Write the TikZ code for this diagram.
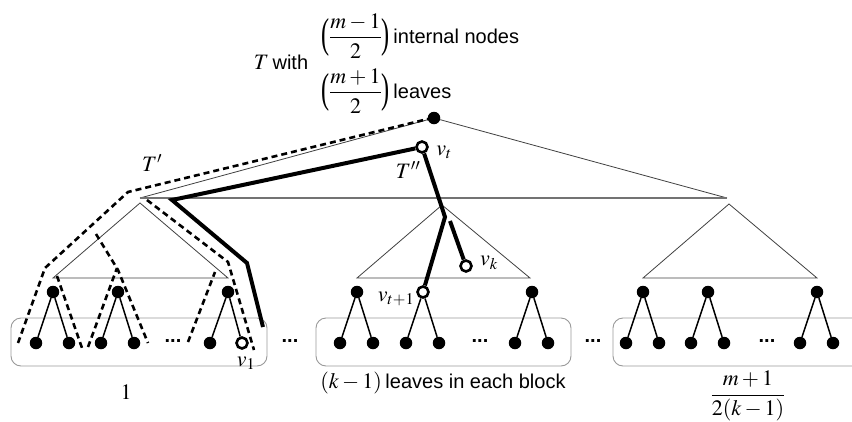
\documentclass[tikz,border=0pt]{standalone}
\usepackage{amsmath}
\usepackage{graphicx}
\usepackage{mathptmx}
\usepackage[no-math]{fontspec}
\setmainfont{Liberation Serif}
\setsansfont{Liberation Sans}
\newcommand{\sftxt}[1]{{\fontsize{20}{24}\selectfont\sffamily #1}}
\newcommand{\lparen}{\mathopen{\raisebox{-4.6pt}{\scalebox{1.1}[1.9]{(}}}}
\newcommand{\rparen}{\mathclose{\raisebox{-4.6pt}{\scalebox{1.1}[1.9]{)}}}}
\tikzset{
  fdot/.style={circle, fill=black, inner sep=0pt, minimum size=12.5pt},
  hdot/.style={circle, draw=black, line width=2.6pt, fill=white, inner sep=0pt, minimum size=11pt},
  leafedge/.style={line width=1.5pt},
  thin/.style={draw=black!75, line width=0.8pt},
  baseline/.style={draw=black!55, line width=1.2pt},
  blockbox/.style={draw=black!40, line width=0.9pt, rounded corners=10pt},
  tdash/.style={line width=2.6pt, dash pattern=on 6pt off 4pt},
  thickpath/.style={line width=4pt},
  lbl/.style={inner sep=0pt, font=\fontsize{22}{26}\selectfont},
  sdots/.style={inner sep=0pt, font=\fontsize{20}{24}\selectfont\sffamily\bfseries},
}
\begin{document}
\begin{tikzpicture}[x=1pt, y=-1pt]
\useasboundingbox (0,0) rectangle (852,421);
% blocks
\draw[blockbox] (11,318) rectangle (267,366);
\draw[blockbox] (316,318) rectangle (571,366);
\begin{scope}
\clip (0,0) rectangle (852,421);
\draw[blockbox] (613,318) rectangle (880,366);
\end{scope}
% upper tree
\node[fdot] (root) at (434,118) {};
\coordinate (la) at (140,198);
\coordinate (ra) at (727,198);
\draw[thin] (root) -- (la);
\draw[thin] (root) -- (ra);
\draw[baseline] (la) -- (ra);
% subtree triangles
\draw[thin] (140,203) -- (53,278) -- (228,278) -- cycle;
\draw[thin] (442,205) -- (357,278) -- (530,278) -- cycle;
\draw[thin] (729,204) -- (643,278) -- (817,278) -- cycle;
% leaf pairs
\foreach \n/\x in {a1/53, a2/118, b1/357, b3/532, c1/643, c2/708, c3/817} {
  \node[fdot] (\n) at (\x,292) {};
  \node[fdot] (\n L) at (\x-17,343) {};
  \node[fdot] (\n R) at (\x+16,343) {};
  \draw[leafedge] (\n) -- (\n L);
  \draw[leafedge] (\n) -- (\n R);
}
\node[fdot] (a3) at (228,292) {};
\node[fdot] (a3L) at (210,343) {};
\node[hdot] (v1) at (242,343) {};
\draw[leafedge] (a3) -- (a3L);
\draw[leafedge] (a3) -- (v1);
\node[hdot] (vt1) at (423,292) {};
\node[fdot] (b2L) at (406,343) {};
\node[fdot] (b2R) at (439,343) {};
\draw[leafedge] (vt1) -- (b2L);
\draw[leafedge] (vt1) -- (b2R);
% dots
\node[sdots] (d1) at (173,341) {...};
\node[sdots] (d2) at (480,341) {...};
\node[sdots] (d3) at (767,341) {...};
\node[sdots] (d4) at (290,341) {...};
\node[sdots] (d5) at (593,341) {...};
% dashed outline of T'
\draw[tdash] (18,343) -- (45,268) -- (57,257) -- (128,192) -- (428,119);
\draw[tdash] (57,276) -- (82,348);
\draw[tdash] (88,347) -- (117,268);
\draw[tdash] (96,234) -- (118,270) -- (148,343);
\draw[tdash] (188,342) -- (215,272);
\draw[tdash] (147,200) -- (228,262) -- (254,350);
% thick paths
\node[hdot] (vt) at (422,147) {};
\node[hdot] (vk) at (466,266) {};
\coordinate (p1) at (172,200);
\coordinate (p2) at (247,263);
\coordinate (p3) at (263,327);
\coordinate (q1) at (445,217);
\coordinate (q2) at (450,221);
\draw[thickpath] (vt) -- (p1) -- (p2) -- (p3);
\draw[thickpath] (vt) -- (q1) -- (vt1);
\draw[thickpath] (q2) -- (vk);
% labels
\node[lbl] (lvt) at (444,152) {$v_t$};
\node[lbl] (lvk) at (489,263) {$v_k$};
\node[lbl] (lvt1) at (396,299) {$v_{t+1}$};
\node[lbl] (lv1) at (246,363) {$v_1$};
\node[lbl] (lT1) at (152,163) {$T'$};
\node[lbl] (lT2) at (408,170) {$T''$};
\node[lbl] (Twith) at (281,62) {$T$\,\sftxt{with}};
\node[lbl, anchor=west] (intn) at (321,36) {$\lparen\dfrac{m-1}{2}\rparen$\,\sftxt{internal nodes}};
\node[lbl, anchor=west] (leav) at (321,91) {$\lparen\dfrac{m+1}{2}\rparen$\,\sftxt{leaves}};
\node[lbl] (one) at (126,392) {$1$};
\node[lbl] (each) at (443,383) {$(k-1)$\,\sftxt{leaves in each block}};
\node[lbl] (frac) at (748,396) {$\dfrac{m+1}{2(k-1)}$};
\end{tikzpicture}
\end{document}
